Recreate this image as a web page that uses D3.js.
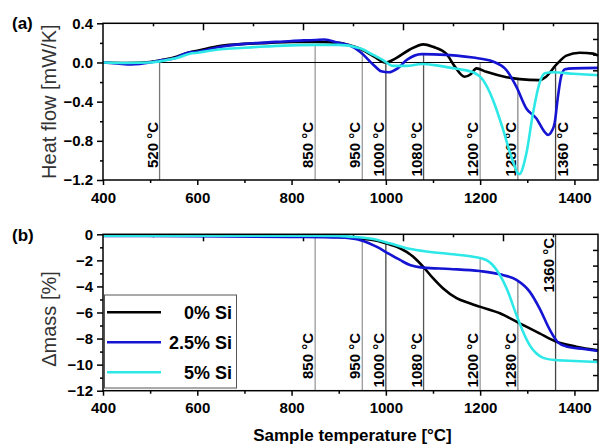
<!DOCTYPE html>
<html>
<head>
<meta charset="utf-8">
<script src="https://cdn.jsdelivr.net/npm/d3@7"></script>
<style>
  body { margin: 0; background: #fff; }
  svg text { font-family: "Liberation Sans", Arial, sans-serif; }
</style>
</head>
<body>
<div id="chart"></div>
<script>
// series names and colours
const seriesNames = ["0% Si", "2.5% Si", "5% Si"];
const seriesColors = ["#000000", "#1414d2", "#2ee8e8"];

// (a) heat flow [mW/K] vs temperature [°C]
const heatBlack = [[400,0],[450,-0.005],[500,0.005],[520,0.02],[550,0.05],[580,0.1],[600,0.12],[650,0.17],[700,0.19],[750,0.2],[800,0.21],[850,0.21],[900,0.2],[920,0.18],[950,0.13],[975,0.06],[1000,0.0],[1020,0.04],[1050,0.13],[1080,0.185],[1100,0.16],[1128,0.09],[1146,-0.04],[1167,-0.145],[1180,-0.12],[1192,-0.06],[1213,-0.095],[1256,-0.15],[1284,-0.17],[1326,-0.18],[1340,-0.145],[1362,-0.02],[1383,0.07],[1411,0.1],[1440,0.09],[1450,0.07]];
const heatBlue = [[400,0],[430,-0.01],[460,-0.02],[500,0],[520,0.02],[550,0.04],[580,0.1],[600,0.11],[650,0.16],[700,0.19],[750,0.205],[800,0.22],[850,0.23],[870,0.235],[900,0.2],[920,0.18],[945,0.11],[975,-0.03],[990,-0.09],[1006,-0.1],[1025,-0.06],[1044,0.025],[1076,0.085],[1114,0.08],[1150,0.07],[1185,0.05],[1227,0.01],[1256,-0.08],[1277,-0.25],[1298,-0.47],[1319,-0.57],[1337,-0.71],[1344,-0.74],[1352,-0.7],[1358,-0.62],[1365,-0.35],[1372,-0.14],[1380,-0.07],[1397,-0.06],[1450,-0.055]];
const heatCyan = [[400,0],[450,-0.005],[500,0],[530,0.02],[560,0.05],[584,0.09],[600,0.1],[650,0.135],[700,0.15],[733,0.16],[800,0.175],[850,0.18],[900,0.18],[945,0.145],[973,0.077],[994,0.025],[1015,-0.035],[1044,-0.035],[1076,-0.015],[1114,-0.035],[1150,-0.065],[1185,-0.1],[1206,-0.18],[1227,-0.38],[1249,-0.69],[1266,-0.96],[1283,-1.14],[1298,-0.93],[1312,-0.52],[1326,-0.21],[1337,-0.11],[1355,-0.1],[1397,-0.115],[1450,-0.13]];

// (b) mass change [%] vs temperature [°C]
const massBlack = [[400,-0.1],[600,-0.1],[800,-0.12],[900,-0.2],[924,-0.26],[952,-0.36],[975,-0.45],[994,-0.62],[1010,-0.8],[1030,-1.07],[1058,-1.72],[1079,-2.48],[1100,-3.37],[1121,-4.14],[1150,-4.9],[1178,-5.29],[1199,-5.55],[1242,-6.06],[1284,-6.83],[1326,-7.6],[1362,-8.24],[1404,-8.62],[1450,-8.9]];
const massBlue = [[400,-0.12],[600,-0.15],[800,-0.2],[900,-0.25],[924,-0.3],[952,-0.51],[980,-0.95],[1008,-1.53],[1030,-1.97],[1051,-2.36],[1079,-2.56],[1136,-2.66],[1199,-2.82],[1242,-3.07],[1277,-3.5],[1305,-4.4],[1326,-5.68],[1348,-7.34],[1365,-8.29],[1383,-8.6],[1420,-8.8],[1450,-8.95]];
const massCyan = [[400,-0.1],[800,-0.1],[900,-0.12],[924,-0.18],[973,-0.36],[1008,-0.69],[1044,-1.07],[1079,-1.28],[1136,-1.51],[1185,-1.72],[1213,-1.97],[1235,-2.74],[1256,-4.14],[1277,-6.19],[1291,-7.47],[1305,-8.5],[1319,-9.13],[1335,-9.5],[1360,-9.65],[1400,-9.72],[1450,-9.8]];

// marker temperatures, where each drop line starts, and line greys
const markTemps = [520, 850, 950, 1000, 1080, 1200, 1280, 1360];
const markTopA = [0.0, 0.18, 0.11, 0.0, 0.09, 0.0, -0.18, -0.05];
const markTopB = [null, -0.1, -0.18, -0.69, -2.5, -1.77, -3.5, 0];
const markGreys = ["#777", "#9a9a9a", "#9a9a9a", "#444", "#555", "#9a9a9a", "#888", "#444"];

// ticks
const xMajor = [400, 600, 800, 1000, 1200, 1400];
const xMinor = [500, 700, 900, 1100, 1300];
const yMajorA = [0.4, 0.0, -0.4, -0.8, -1.2];
const yMinorA = [0.2, -0.2, -0.6, -1.0];
const yMajorB = [0, -2, -4, -6, -8, -10, -12];
const yMinorB = [-1, -3, -5, -7, -9, -11];

const W = 600, H = 445;
const left = 103, right = 598;
const panelA = {top: 23.3, bottom: 180};
const panelB = {top: 234.3, bottom: 390.7};

const svg = d3.select("#chart").append("svg")
  .attr("width", W).attr("height", H);

const x = d3.scaleLinear().domain([400, 1450]).range([left, right]);
// the top frame carries its own tick spacing in the original
const xTop = d3.scaleLinear().domain([400, 1390]).range([left, right]);

const yA = d3.scaleLinear().domain([-1.2, 0.4]).range([panelA.bottom, panelA.top]);
const yB = d3.scaleLinear().domain([-12, 0]).range([panelB.bottom, panelB.top]);

function drawPanel(p, y, yMajor, yMinor, fmt) {
  const g = svg.append("g");
  // left axis
  g.append("g").attr("transform", `translate(${left},0)`)
    .call(d3.axisLeft(y).tickValues(yMinor).tickSize(3).tickFormat(""));
  g.append("g").attr("transform", `translate(${left},0)`)
    .call(d3.axisLeft(y).tickValues(yMajor).tickSize(6).tickPadding(4).tickFormat(fmt));
  // bottom axis
  g.append("g").attr("transform", `translate(0,${p.bottom})`)
    .call(d3.axisBottom(x).tickValues(xMinor).tickSize(3).tickFormat(""));
  g.append("g").attr("transform", `translate(0,${p.bottom})`)
    .call(d3.axisBottom(x).tickValues(xMajor).tickSize(5).tickPadding(7).tickFormat(d3.format("d")));
  // top ticks (inward)
  g.append("g").attr("transform", `translate(0,${p.top})`)
    .call(d3.axisBottom(xTop).tickValues([500, 700, 900, 1100, 1300]).tickSize(3).tickFormat(""));
  g.append("g").attr("transform", `translate(0,${p.top})`)
    .call(d3.axisBottom(xTop).tickValues([600, 800, 1000, 1200]).tickSize(7).tickFormat(""));
  // right ticks (inward)
  const yR = d3.scaleLinear().domain([0, 10]).range([p.bottom, p.top]);
  g.append("g").attr("transform", `translate(${right},0)`)
    .call(d3.axisLeft(yR).tickValues(d3.range(1, 10)).tickSize(5).tickFormat(""));

  g.selectAll(".domain").remove();
  g.selectAll(".tick line").attr("stroke", "#000").attr("stroke-width", 1.5);
  g.selectAll(".tick text")
    .attr("fill", "#000")
    .style("font-size", "15px")
    .style("font-weight", "bold");
  return g;
}

function drawMarks(p, y, tops, labelEnd, special) {
  const g = svg.append("g");
  markTemps.forEach((t, i) => {
    if (tops[i] === null) return;
    g.append("line")
      .attr("x1", x(t)).attr("x2", x(t))
      .attr("y1", tops[i] === 0 && special ? p.top : y(tops[i]))
      .attr("y2", p.bottom)
      .attr("stroke", markGreys[i])
      .attr("stroke-width", 1.3);
    let lx = x(t) - 2, ly = labelEnd;
    if (special && t === 1360) ly = special;
    if (!special && t === 1360) lx = x(t) + 12.5;
    g.append("text")
      .attr("transform", `translate(${lx},${ly}) rotate(-90)`)
      .attr("text-anchor", "end")
      .style("font-size", "15px")
      .style("font-weight", "bold")
      .attr("fill", "#000")
      .text(t + " °C");
  });
}

function drawCurves(y, sets) {
  const line = d3.line().x(d => x(d[0])).y(d => y(d[1])).curve(d3.curveMonotoneX);
  sets.forEach((s, i) => {
    svg.append("path")
      .datum(s)
      .attr("d", line)
      .attr("fill", "none")
      .attr("stroke", seriesColors[i])
      .attr("stroke-width", 2.6)
      .attr("stroke-linejoin", "round");
  });
}

function frame(p) {
  svg.append("rect")
    .attr("x", left).attr("y", p.top)
    .attr("width", right - left).attr("height", p.bottom - p.top)
    .attr("fill", "none").attr("stroke", "#000").attr("stroke-width", 1.5);
}

// ---- panel (a)
drawPanel(panelA, yA, yMajorA, yMinorA, d3.format(".1f"));
drawMarks(panelA, yA, markTopA, 122, null);
svg.append("line")
  .attr("x1", left).attr("x2", right)
  .attr("y1", yA(0)).attr("y2", yA(0))
  .attr("stroke", "#000").attr("stroke-width", 1.2);
drawCurves(yA, [heatBlack, heatBlue, heatCyan]);
frame(panelA);

// ---- panel (b)
drawPanel(panelB, yB, yMajorB, yMinorB, d3.format("d"));
drawMarks(panelB, yB, markTopB, 333, 238);
drawCurves(yB, [massBlack, massBlue, massCyan]);
frame(panelB);

// ---- titles
svg.append("text")
  .attr("transform", `translate(56,${(panelA.top + panelA.bottom) / 2}) rotate(-90)`)
  .attr("text-anchor", "middle")
  .style("font-size", "20px").attr("fill", "#333")
  .text("Heat flow [mW/K]");
svg.append("text")
  .attr("transform", `translate(56,319) rotate(-90)`)
  .attr("text-anchor", "middle")
  .style("font-size", "20px").attr("fill", "#333")
  .text("Δmass [%]");
svg.append("text")
  .attr("x", (left + right) / 2 + 2).attr("y", 441)
  .attr("text-anchor", "middle")
  .style("font-size", "17px").style("font-weight", "bold")
  .text("Sample temperature [°C]");
svg.append("text").attr("x", 12).attr("y", 29)
  .style("font-size", "17px").style("font-weight", "bold").text("(a)");
svg.append("text").attr("x", 12).attr("y", 241)
  .style("font-size", "17px").style("font-weight", "bold").text("(b)");

// ---- legend
const leg = svg.append("g");
leg.append("rect")
  .attr("x", 104.5).attr("y", 295).attr("width", 132).attr("height", 93)
  .attr("fill", "#fff").attr("stroke", "#555").attr("stroke-width", 1);
seriesNames.forEach((name, i) => {
  const ly = 312.3 + i * 30;
  leg.append("line")
    .attr("x1", 107).attr("x2", 161).attr("y1", ly).attr("y2", ly)
    .attr("stroke", seriesColors[i]).attr("stroke-width", 2.6);
  leg.append("text")
    .attr("x", 232).attr("y", ly + 7)
    .attr("text-anchor", "end")
    .style("font-size", "18px").style("font-weight", "bold")
    .text(name);
});
</script>
</body>
</html>
